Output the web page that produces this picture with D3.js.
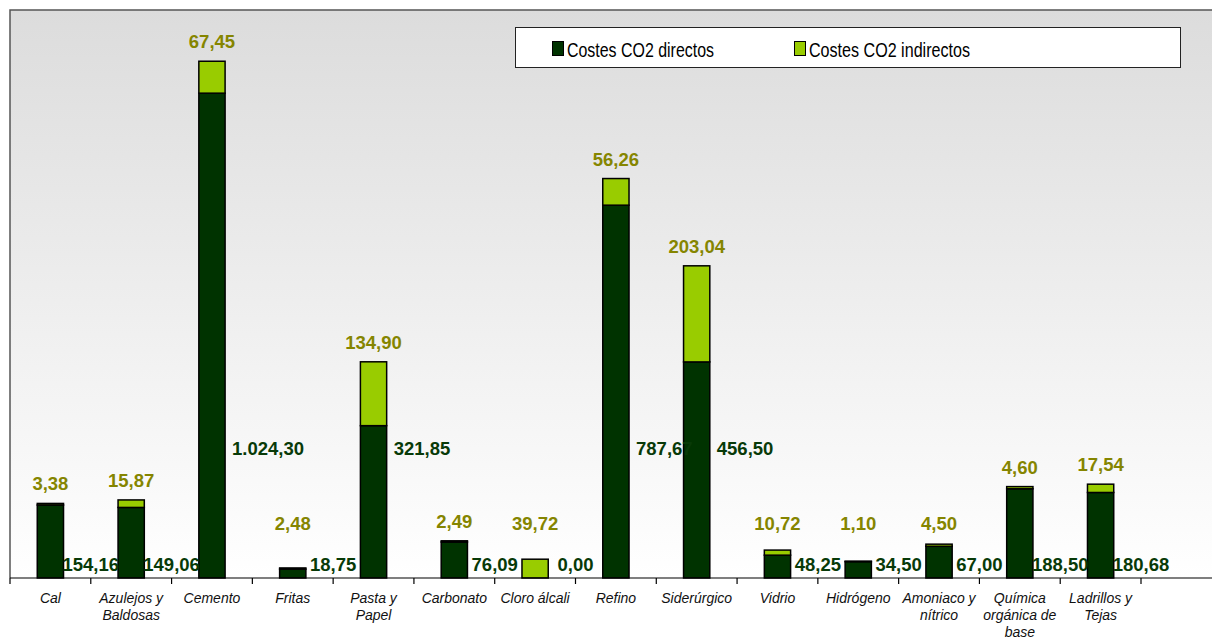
<!DOCTYPE html>
<html>
<head>
<meta charset="utf-8">
<script src="https://cdn.jsdelivr.net/npm/d3@7"></script>
<style>
  html, body { margin: 0; padding: 0; background: #ffffff; }
  svg { display: block; }
</style>
</head>
<body>
<svg id="chart" width="1212" height="640"></svg>
<script>
// Sectores industriales y costes de CO2 (directos e indirectos)
const categories = [
  "Cal", "Azulejos y Baldosas", "Cemento", "Fritas", "Pasta y Papel",
  "Carbonato", "Cloro álcali", "Refino", "Siderúrgico", "Vidrio",
  "Hidrógeno", "Amoniaco y nítrico", "Química orgánica de base", "Ladrillos y Tejas"
];
const directCosts = [154.16, 149.06, 1024.30, 18.75, 321.85, 76.09, 0.00, 787.67, 456.50, 48.25, 34.50, 67.00, 188.50, 180.68];
const indirectCosts = [3.38, 15.87, 67.45, 2.48, 134.90, 2.49, 39.72, 56.26, 203.04, 10.72, 1.10, 4.50, 4.60, 17.54];
const seriesNames = ["Costes CO2 directos", "Costes CO2 indirectos"];
const yDomain = [0, 1200];

const colors = { direct: "#003300", indirect: "#99cc00" };
const labelColors = { direct: "#083a08", indirect: "#858500" };

const es = d3.formatLocale({ decimal: ",", thousands: ".", grouping: [3], currency: ["", " €"] });
const fmt = es.format(",.2f");

const svg = d3.select("#chart");
const W = 1212, H = 640;
const plot = { left: 10, top: 10, bottom: 578, right: 1141 };
const FONT = "'Liberation Sans', Arial, sans-serif";

const x = d3.scaleBand().domain(categories).range([plot.left, plot.right]).padding(0);
const y = d3.scaleLinear().domain(yDomain).range([plot.bottom, plot.top]);
const barW = x.bandwidth() * 0.325;

// Fondo del área de trazado con degradado gris
const defs = svg.append("defs");
const grad = defs.append("linearGradient").attr("id", "bg").attr("x1", 0).attr("y1", 0).attr("x2", 0).attr("y2", 1);
grad.append("stop").attr("offset", "0%").attr("stop-color", "#dcdcdc");
grad.append("stop").attr("offset", "100%").attr("stop-color", "#ffffff");

svg.append("rect")
  .attr("x", plot.left).attr("y", plot.top)
  .attr("width", W - plot.left + 5).attr("height", plot.bottom - plot.top)
  .attr("fill", "url(#bg)");

// Bordes superior e izquierdo
svg.append("path")
  .attr("d", `M${plot.left},${plot.bottom} V${plot.top} H${W + 5}`)
  .attr("fill", "none").attr("stroke", "#555").attr("stroke-width", 1.5);

// Barras apiladas
const rows = categories.map((c, i) => ({ c, d: directCosts[i], ind: indirectCosts[i] }));
const bx = r => x(r.c) + (x.bandwidth() - barW) / 2;

const g = svg.append("g");
g.selectAll("rect.direct").data(rows.filter(r => r.d > 0)).join("rect")
  .attr("class", "direct")
  .attr("x", bx).attr("width", barW)
  .attr("y", r => y(r.d)).attr("height", r => y(0) - y(r.d))
  .attr("fill", colors.direct).attr("stroke", "#000").attr("stroke-width", 1.5);

g.selectAll("rect.indirect").data(rows).join("rect")
  .attr("class", "indirect")
  .attr("x", bx).attr("width", barW)
  .attr("y", r => y(r.d + r.ind)).attr("height", r => y(r.d) - y(r.d + r.ind))
  .attr("fill", colors.indirect).attr("stroke", "#000").attr("stroke-width", 1.5);

// Eje horizontal con marcas entre categorías
svg.append("line")
  .attr("x1", plot.left).attr("x2", W + 5)
  .attr("y1", plot.bottom).attr("y2", plot.bottom)
  .attr("stroke", "#000").attr("stroke-width", 1.2);
const tickPos = categories.map(c => x(c)).concat([x(categories[categories.length - 1]) + x.bandwidth()]);
svg.selectAll("line.tick").data(tickPos).join("line")
  .attr("class", "tick")
  .attr("x1", d => d).attr("x2", d => d)
  .attr("y1", plot.bottom).attr("y2", plot.bottom + 6)
  .attr("stroke", "#000").attr("stroke-width", 1.2);

// Etiquetas de categoría (cursiva, en varias líneas)
const catG = svg.append("g")
  .attr("font-family", FONT)
  .attr("font-size", 14).attr("font-style", "italic").attr("fill", "#111");
const maxW = x.bandwidth() - 3;
categories.forEach(c => {
  const cx = x(c) + x.bandwidth() / 2;
  const t = catG.append("text").attr("x", cx).attr("y", 603).attr("text-anchor", "middle");
  const words = c.split(" ");
  let line = [];
  let ts = t.append("tspan").attr("x", cx).attr("dy", 0);
  words.forEach(w => {
    line.push(w);
    ts.text(line.join(" "));
    if (ts.node().getComputedTextLength() > maxW && line.length > 1) {
      line.pop();
      ts.text(line.join(" "));
      line = [w];
      ts = t.append("tspan").attr("x", cx).attr("dy", 17).text(w);
    }
  });
});

// Etiquetas de valores
const lab = svg.append("g")
  .attr("font-family", FONT)
  .attr("font-size", 18.5).attr("font-weight", "bold");

lab.selectAll("text.ind").data(rows).join("text")
  .attr("class", "ind")
  .attr("x", r => x(r.c) + x.bandwidth() / 2)
  .attr("y", r => Math.min(y(r.d + r.ind) - 13, 530))
  .attr("text-anchor", "middle")
  .attr("fill", labelColors.indirect)
  .text(r => fmt(r.ind));

// Etiquetas de costes directos: centradas en la marca derecha de cada categoría
lab.selectAll("text.dir").data(rows).join("text")
  .attr("class", "dir")
  .attr("text-anchor", "middle")
  .attr("fill", labelColors.direct)
  .text(r => fmt(r.d))
  .attr("y", r => r.d > 300 ? 455 : 571)
  .attr("x", function (r) {
    const tick = x(r.c) + x.bandwidth();
    if (r.d > 300) {
      const w = this.getComputedTextLength();
      return Math.max(tick, bx(r) + barW + 7 + w / 2);
    }
    return tick;
  });

// Leyenda
const leg = svg.append("g");
leg.append("rect")
  .attr("x", 515.5).attr("y", 27.5).attr("width", 665).attr("height", 40)
  .attr("fill", "#fff").attr("stroke", "#222").attr("stroke-width", 1);
const legItems = [
  { name: seriesNames[0], color: colors.direct, x: 552, w: 147 },
  { name: seriesNames[1], color: colors.indirect, x: 794, w: 161 }
];
legItems.forEach(it => {
  leg.append("rect")
    .attr("x", it.x + 0.5).attr("y", 41.5).attr("width", 11).attr("height", 14)
    .attr("fill", it.color).attr("stroke", "#000").attr("stroke-width", 1);
  leg.append("text")
    .attr("x", it.x + 15).attr("y", 56.5)
    .attr("font-family", FONT)
    .attr("font-size", 21).attr("fill", "#000")
    .attr("textLength", it.w).attr("lengthAdjust", "spacingAndGlyphs")
    .text(it.name);
});
</script>
</body>
</html>
